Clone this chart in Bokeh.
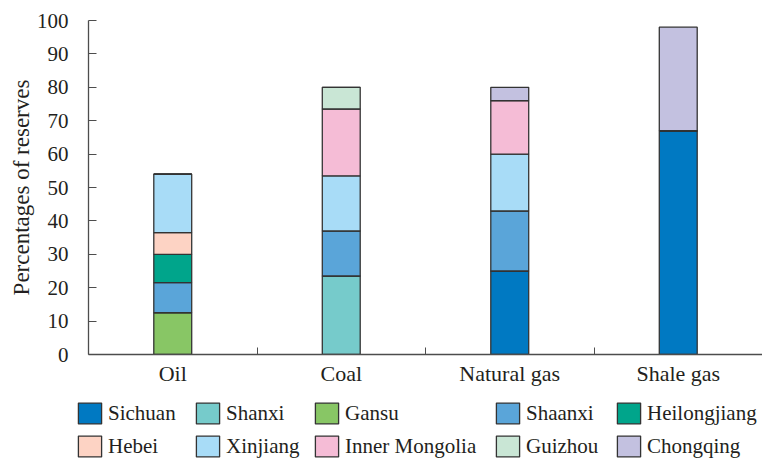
from bokeh.plotting import figure
from bokeh.models import FixedTicker, Legend, Range1d
from bokeh.layouts import column, row
from bokeh.embed import file_html
from bokeh.resources import INLINE
import numpy as np

categories = ["Oil", "Coal", "Natural gas", "Shale gas"]
provinces = ["Sichuan", "Shanxi", "Gansu", "Shaanxi", "Heilongjiang",
             "Hebei", "Xinjiang", "Inner Mongolia", "Guizhou", "Chongqing"]
colors = ["#0079c2", "#76cbcb", "#88c665", "#5aa5d9", "#00a58b",
          "#fdd3c4", "#a8dcf7", "#f5bcd6", "#c9e6d5", "#c3c1e0"]

# percentages of reserves per category (Oil, Coal, Natural gas, Shale gas)
Sichuan = [0, 0, 25, 67]
Shanxi = [0, 23.5, 0, 0]
Gansu = [12.5, 0, 0, 0]
Shaanxi = [9, 13.5, 18, 0]
Heilongjiang = [8.5, 0, 0, 0]
Hebei = [6.5, 0, 0, 0]
Xinjiang = [17.5, 16.5, 17, 0]
Inner_Mongolia = [0, 20, 16, 0]
Guizhou = [0, 6.5, 0, 0]
Chongqing = [0, 0, 4, 31]

series = [Sichuan, Shanxi, Gansu, Shaanxi, Heilongjiang, Hebei,
          Xinjiang, Inner_Mongolia, Guizhou, Chongqing]

y_ticks = list(range(0, 101, 10))

FONT = "Liberation Serif"
TXT = "#231f20"
AX = "#4d4d4d"
EDGE = "#333333"

x = np.arange(len(categories)) + 0.5
data = {"x": x}
for name, vals in zip(provinces, series):
    data[name] = vals

p = figure(width=762, height=388, output_backend="svg", toolbar_location=None,
           x_range=Range1d(0, len(categories)), y_range=Range1d(0, 100),
           min_border_left=88, min_border_right=0, min_border_top=20,
           min_border_bottom=34)
p.outline_line_color = None
p.grid.grid_line_color = None
p.background_fill_color = None
p.border_fill_color = None

p.vbar_stack(provinces, x="x", width=0.225, source=data,
             fill_color=colors, line_color=EDGE, line_width=1.3)

# x axis
p.xaxis.ticker = FixedTicker(ticks=list(x), minor_ticks=[1, 2, 3, 4])
p.xaxis.major_label_overrides = {float(v): c for v, c in zip(x, categories)}
p.xaxis.major_tick_line_color = None
p.xaxis.major_tick_in = 0
p.xaxis.major_tick_out = 0
p.xaxis.minor_tick_in = 7
p.xaxis.minor_tick_out = 0
p.xaxis.minor_tick_line_color = AX
p.xaxis.axis_line_color = AX
p.xaxis.axis_line_width = 1.3
p.xaxis.major_label_text_font = FONT
p.xaxis.major_label_text_font_size = "22px"
p.xaxis.major_label_text_color = TXT
p.xaxis.major_label_standoff = 6

# y axis
p.yaxis.ticker = FixedTicker(ticks=y_ticks)
p.yaxis.minor_tick_line_color = None
p.yaxis.major_tick_in = 8
p.yaxis.major_tick_out = 0
p.yaxis.major_tick_line_color = AX
p.yaxis.axis_line_color = AX
p.yaxis.axis_line_width = 1.3
p.yaxis.major_label_text_font = FONT
p.yaxis.major_label_text_font_size = "21px"
p.yaxis.major_label_text_color = TXT
p.yaxis.major_label_standoff = 20
p.yaxis.axis_label = "Percentages of reserves"
p.yaxis.axis_label_text_font = FONT
p.yaxis.axis_label_text_font_size = "23px"
p.yaxis.axis_label_text_font_style = "normal"
p.yaxis.axis_label_text_color = TXT
p.yaxis.axis_label_standoff = 0

# legend strip below the chart: 5 columns x 2 rows
lg = figure(width=762, height=76, output_backend="svg", toolbar_location=None,
            x_range=Range1d(0, 1), y_range=Range1d(0, 1),
            x_axis_type=None, y_axis_type=None, min_border=0)
lg.outline_line_color = None
lg.grid.grid_line_color = None
lg.background_fill_color = None
lg.border_fill_color = None

# legend-only renderers (their single value is NaN, so nothing is drawn)
swatches = [lg.vbar(x=[np.nan], top=[np.nan], width=1, fill_color=c,
                    line_color=EDGE, line_width=1.3) for c in colors]

col_x = [75, 193, 312, 493, 614]
for i, cx in enumerate(col_x):
    idx = [i, i + 5]
    leg = Legend(items=[(provinces[j], [swatches[j]]) for j in idx],
                 location=(cx, 5), orientation="vertical",
                 glyph_width=29, glyph_height=26, label_standoff=4, spacing=7,
                 padding=0, margin=0, border_line_color=None,
                 background_fill_alpha=0,
                 label_text_font=FONT, label_text_font_size="21px",
                 label_text_color=TXT)
    lg.add_layout(leg, "center")

layout = column(p, row(lg), spacing=0)
open("out.html", "w").write(file_html(layout, INLINE))
